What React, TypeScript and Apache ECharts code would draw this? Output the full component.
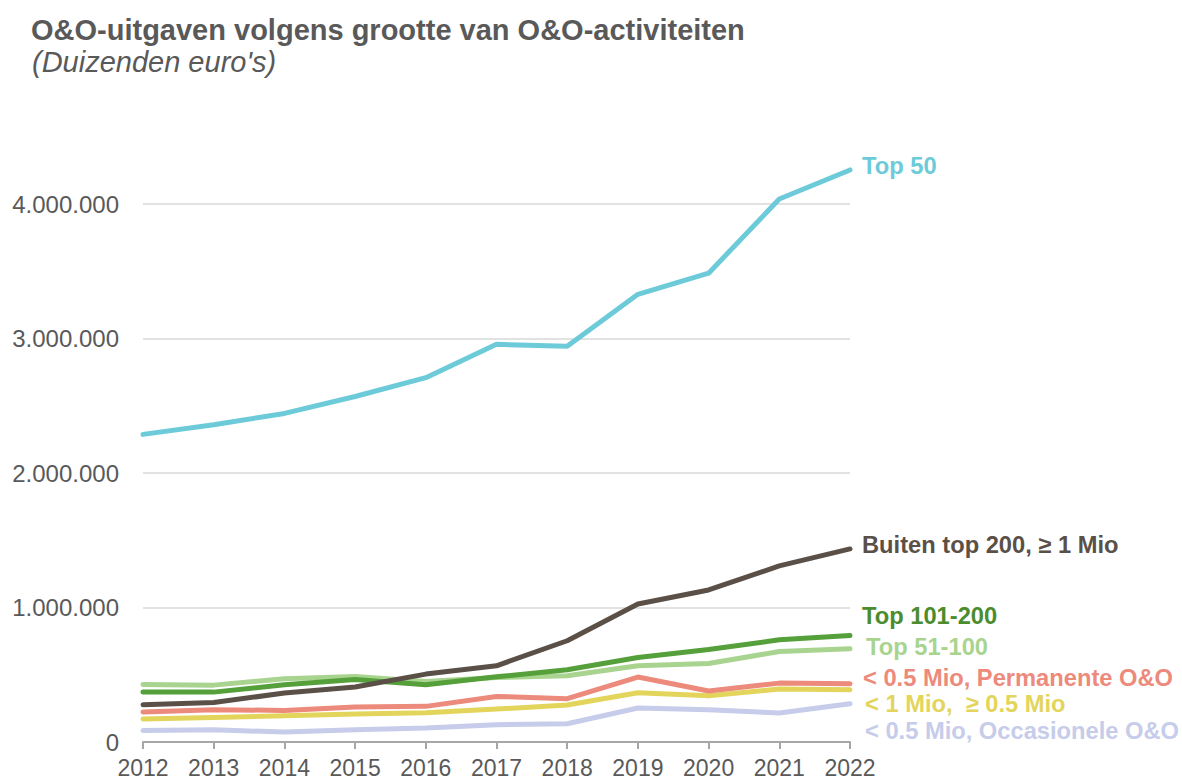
import React, { useEffect, useRef } from "react";
import * as echarts from "echarts";

const years = ["2012", "2013", "2014", "2015", "2016", "2017", "2018", "2019", "2020", "2021", "2022"];

const top50 = [2288000, 2360000, 2444000, 2570000, 2710000, 2958000, 2943000, 3330000, 3487000, 4039000, 4255000];
const buitenTop200 = [277000, 294000, 364000, 409000, 505000, 567000, 753000, 1027000, 1131000, 1310000, 1436000];
const top101_200 = [371000, 371000, 426000, 465000, 426000, 485000, 537000, 629000, 688000, 760000, 792000];
const top51_100 = [428000, 423000, 470000, 487000, 450000, 480000, 493000, 567000, 584000, 673000, 693000];
const permanente = [223000, 240000, 235000, 260000, 265000, 339000, 322000, 483000, 379000, 438000, 433000];
const tussen = [171000, 183000, 195000, 208000, 218000, 245000, 275000, 366000, 344000, 394000, 389000];
const occasionele = [86000, 91000, 74000, 91000, 104000, 129000, 136000, 253000, 240000, 215000, 285000];

const gridValues = [1000000, 2000000, 3000000, 4000000];

const FONT = "'Liberation Sans', Arial, sans-serif";

type S = { name: string; data: number[]; color: string; labelColor: string; dx: number; dy: number };

const seriesDefs: S[] = [
  { name: "< 0.5 Mio, Occasionele O&O", data: occasionele, color: "#C6CCEA", labelColor: "#C6CCEA", dx: 3, dy: 27 },
  { name: "< 1 Mio,  \u2265 0.5 Mio", data: tussen, color: "#E3D55C", labelColor: "#E3D55C", dx: 3, dy: 14 },
  { name: "< 0.5 Mio, Permanente O&O", data: permanente, color: "#EC8A7C", labelColor: "#EC8A7C", dx: 1, dy: -6 },
  { name: "Top 51-100", data: top51_100, color: "#A8D490", labelColor: "#A8D490", dx: 4, dy: -2 },
  { name: "Top 101-200", data: top101_200, color: "#55A03A", labelColor: "#4B8C2E", dx: 0, dy: -20 },
  { name: "Buiten top 200, \u2265 1 Mio", data: buitenTop200, color: "#5B5047", labelColor: "#5B5047", dx: 0, dy: -4 },
  { name: "Top 50", data: top50, color: "#6DCBD9", labelColor: "#6DCBD9", dx: 0, dy: -4 },
];

function fmt(v: number): string {
  return String(Math.round(v)).replace(/\B(?=(\d{3})+(?!\d))/g, ".");
}

export default function App() {
  const ref = useRef<HTMLDivElement>(null);
  useEffect(() => {
    if (!ref.current) return;
    const chart = echarts.init(ref.current, undefined, { renderer: "svg" });
    const series: any[] = seriesDefs.map((s, i) => ({
      type: "line",
      name: s.name,
      data: s.data,
      symbol: "none",
      z: 2 + i,
      lineStyle: { color: s.color, width: 5, cap: "round", join: "round" },
      itemStyle: { color: s.color },
      endLabel: {
        show: true,
        formatter: "{a}",
        color: s.labelColor,
        fontFamily: FONT,
        fontWeight: "bold",
        fontSize: 23.7,
        distance: 12,
        offset: [s.dx, s.dy],
      },
      markLine:
        i === 0
          ? {
              silent: true,
              symbol: "none",
              label: { show: false },
              lineStyle: { color: "#D9D9D9", width: 1.5, type: "solid" },
              data: gridValues.map((v) => ({ yAxis: v })),
              z: 1,
            }
          : undefined,
    }));
    chart.setOption({
      animation: false,
      backgroundColor: "#ffffff",
      title: [
        {
          text: "O&O-uitgaven volgens grootte van O&O-activiteiten",
          left: 26,
          top: 10,
          textStyle: { fontFamily: FONT, fontWeight: "bold", fontSize: 29, color: "#595959" },
        },
        {
          text: "(Duizenden euro's)",
          left: 27,
          top: 42,
          textStyle: { fontFamily: FONT, fontStyle: "italic", fontWeight: "normal", fontSize: 29, color: "#595959" },
        },
      ],
      grid: { left: 143, right: 332, top: 137, bottom: 39, containLabel: false },
      xAxis: {
        type: "category",
        data: years,
        boundaryGap: false,
        axisLine: { lineStyle: { color: "#A6A6A6", width: 2 } },
        axisTick: { show: true, length: 7, lineStyle: { color: "#A6A6A6", width: 2 } },
        axisLabel: { color: "#595959", fontFamily: FONT, fontSize: 23, margin: 14 },
        splitLine: { show: false },
      },
      yAxis: {
        type: "value",
        min: 0,
        max: 4500000,
        interval: 1000000,
        axisLine: { show: false },
        axisTick: { show: false },
        splitLine: { show: false },
        axisLabel: {
          color: "#595959",
          fontFamily: FONT,
          fontSize: 24,
          margin: 24,
          showMaxLabel: false,
          formatter: (v: number) => (v % 1000000 === 0 ? fmt(v) : ""),
        },
      },
      series,
    });
    return () => chart.dispose();
  }, []);
  return (
    <div
      ref={ref}
      style={{ position: "fixed", left: 0, top: 0, width: 1182, height: 781, background: "#fff" }}
    />
  );
}
